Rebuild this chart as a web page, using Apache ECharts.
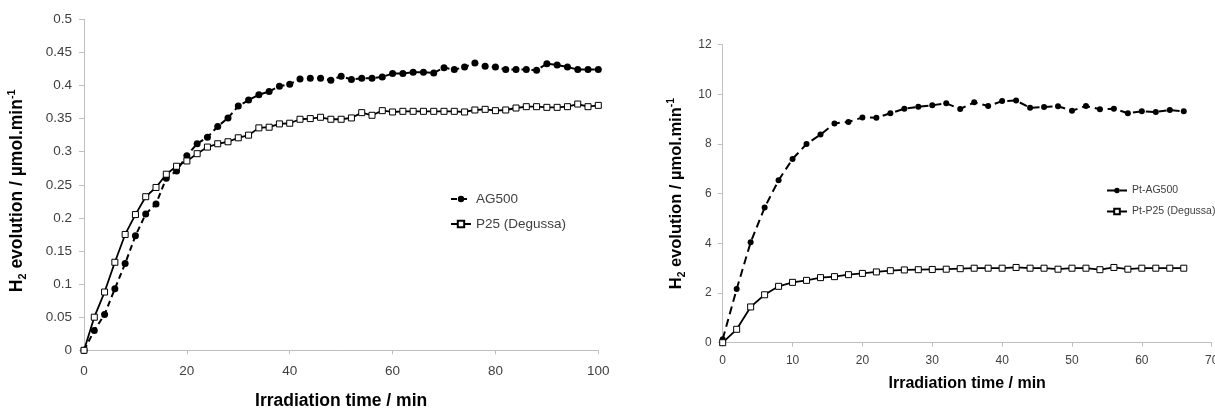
<!DOCTYPE html>
<html>
<head>
<meta charset="utf-8">
<script src="https://cdn.jsdelivr.net/npm/echarts@6/dist/echarts.min.js"></script>
<style>
html,body{margin:0;padding:0;background:#fff;}
#c{width:1215px;height:410px;}
</style>
</head>
<body>
<div id="c"></div>
<script>
// ---- Data ----
var timeLeft = [0,2,4,6,8,10,12,14,16,18,20,22,24,26,28,30,32,34,36,38,40,42,44,46,48,50,52,54,56,58,60,62,64,66,68,70,72,74,76,78,80,82,84,86,88,90,92,94,96,98,100];
var ag500 = [0,0.030,0.054,0.093,0.131,0.173,0.206,0.221,0.260,0.271,0.294,0.312,0.322,0.338,0.351,0.369,0.378,0.386,0.391,0.399,0.402,0.410,0.411,0.411,0.408,0.414,0.409,0.411,0.411,0.413,0.418,0.418,0.420,0.420,0.419,0.427,0.424,0.428,0.434,0.429,0.428,0.424,0.424,0.424,0.423,0.433,0.431,0.428,0.424,0.424,0.424];
var p25 = [0,0.050,0.088,0.133,0.175,0.205,0.232,0.246,0.266,0.278,0.286,0.297,0.307,0.312,0.315,0.321,0.325,0.336,0.337,0.342,0.343,0.349,0.350,0.352,0.349,0.349,0.351,0.359,0.355,0.362,0.360,0.361,0.361,0.361,0.361,0.361,0.361,0.360,0.363,0.364,0.362,0.363,0.366,0.368,0.368,0.367,0.367,0.368,0.372,0.368,0.370];

var timeRight = [0,2,4,6,8,10,12,14,16,18,20,22,24,26,28,30,32,34,36,38,40,42,44,46,48,50,52,54,56,58,60,62,64,66];
var ptAg500 = [0.14,2.16,4.04,5.44,6.54,7.40,8.00,8.38,8.83,8.89,9.07,9.06,9.24,9.42,9.50,9.56,9.64,9.41,9.68,9.53,9.73,9.75,9.46,9.49,9.52,9.34,9.53,9.40,9.42,9.24,9.32,9.29,9.37,9.32];
var ptP25 = [0,0.54,1.44,1.93,2.27,2.43,2.51,2.62,2.66,2.74,2.79,2.85,2.90,2.93,2.94,2.95,2.96,2.98,3.00,3.00,3.00,3.03,3.00,3.00,2.96,3.00,3.00,2.94,3.03,2.96,3.00,3.00,3.00,3.00];

var seriesNamesLeft = ['AG500', 'P25 (Degussa)'];
var seriesNamesRight = ['Pt-AG500', 'Pt-P25 (Degussa)'];
var xTitle = 'Irradiation time / min';

function pairs(xs, ys){ return xs.map(function(x,i){ return [x, ys[i]]; }); }

var FONT = "'Liberation Sans', Arial, sans-serif";
var AXIS_COLOR = '#bfbfbf';
var LABEL_COLOR = '#404040';

function yName(fs){
  return {
    name: '{b|H}{s|2}{b| evolution / µmol.min}{p|-1}',
    rich: {
      b: {fontSize: fs, fontWeight: 'bold', color: '#000', fontFamily: FONT, lineHeight: fs + 4, verticalAlign: 'middle'},
      s: {fontSize: fs * 0.62, fontWeight: 'bold', color: '#000', fontFamily: FONT, lineHeight: fs * 0.7, verticalAlign: 'bottom'},
      p: {fontSize: fs * 0.62, fontWeight: 'bold', color: '#000', fontFamily: FONT, lineHeight: fs * 0.7, verticalAlign: 'top'}
    }
  };
}

var yl = yName(17.5), yr = yName(16.5);

var option = {
  animation: false,
  backgroundColor: '#fff',
  textStyle: {fontFamily: FONT},
  grid: [
    {left: 84, top: 19.3, width: 514.3, height: 331, containLabel: false, outerBoundsMode: 'none'},
    {left: 722.7, top: 44.7, width: 489, height: 298, containLabel: false, outerBoundsMode: 'none'}
  ],
  xAxis: [
    {
      type: 'value', gridIndex: 0, min: 0, max: 100, interval: 20,
      name: xTitle, nameLocation: 'middle', nameGap: 42,
      nameTextStyle: {fontSize: 17.5, fontWeight: 'bold', color: '#000', fontFamily: FONT},
      axisLine: {lineStyle: {color: AXIS_COLOR, width: 1}},
      axisTick: {show: true, length: 4, lineStyle: {color: AXIS_COLOR}},
      axisLabel: {fontSize: 13.5, color: LABEL_COLOR, margin: 14, fontFamily: FONT},
      splitLine: {show: false}
    },
    {
      type: 'value', gridIndex: 1, min: 0, max: 70, interval: 10,
      name: xTitle, nameLocation: 'middle', nameGap: 33,
      nameTextStyle: {fontSize: 16, fontWeight: 'bold', color: '#000', fontFamily: FONT},
      axisLine: {lineStyle: {color: AXIS_COLOR, width: 1}},
      axisTick: {show: true, length: 4, lineStyle: {color: AXIS_COLOR}},
      axisLabel: {fontSize: 12, color: LABEL_COLOR, margin: 12, fontFamily: FONT},
      splitLine: {show: false}
    }
  ],
  yAxis: [
    {
      type: 'value', gridIndex: 0, min: 0, max: 0.5, interval: 0.05,
      name: yl.name, nameLocation: 'middle', nameGap: 56, nameRotate: 90,
      nameTextStyle: {rich: yl.rich, padding: [0, 12, 0, 0]},
      axisLine: {show: true, lineStyle: {color: AXIS_COLOR, width: 1}},
      axisTick: {show: true, length: 5, lineStyle: {color: AXIS_COLOR}},
      axisLabel: {fontSize: 13.5, color: LABEL_COLOR, margin: 12, fontFamily: FONT},
      splitLine: {show: false}
    },
    {
      type: 'value', gridIndex: 1, min: 0, max: 12, interval: 2,
      name: yr.name, nameLocation: 'middle', nameGap: 36, nameRotate: 90,
      nameTextStyle: {rich: yr.rich},
      axisLine: {show: true, lineStyle: {color: AXIS_COLOR, width: 1}},
      axisTick: {show: true, length: 5, lineStyle: {color: AXIS_COLOR}},
      axisLabel: {fontSize: 12, color: LABEL_COLOR, margin: 11, fontFamily: FONT},
      splitLine: {show: false}
    }
  ],
  legend: [
    {
      data: seriesNamesLeft, orient: 'vertical', left: 445, top: 187,
      itemWidth: 20, itemHeight: 8, itemGap: 11,
      textStyle: {fontSize: 13.5, color: LABEL_COLOR, fontFamily: FONT}
    },
    {
      data: seriesNamesRight, orient: 'vertical', left: 1101, top: 180,
      itemWidth: 20, itemHeight: 7, itemGap: 10,
      textStyle: {fontSize: 10.5, color: LABEL_COLOR, fontFamily: FONT}
    }
  ],
  series: [
    {
      name: seriesNamesLeft[0], type: 'line', xAxisIndex: 0, yAxisIndex: 0,
      data: pairs(timeLeft, ag500), symbol: 'circle', symbolSize: 7,
      lineStyle: {color: '#000', width: 2, type: [6, 4]},
      itemStyle: {color: '#000'}
    },
    {
      name: seriesNamesLeft[1], type: 'line', xAxisIndex: 0, yAxisIndex: 0,
      data: pairs(timeLeft, p25), symbol: 'rect', symbolSize: 6,
      lineStyle: {color: '#000', width: 1.8},
      itemStyle: {color: '#fff', borderColor: '#000', borderWidth: 1}
    },
    {
      name: seriesNamesRight[0], type: 'line', xAxisIndex: 1, yAxisIndex: 1,
      data: pairs(timeRight, ptAg500), symbol: 'circle', symbolSize: 6,
      lineStyle: {color: '#000', width: 2, type: [8, 5]},
      itemStyle: {color: '#000'}
    },
    {
      name: seriesNamesRight[1], type: 'line', xAxisIndex: 1, yAxisIndex: 1,
      data: pairs(timeRight, ptP25), symbol: 'rect', symbolSize: 6,
      lineStyle: {color: '#000', width: 1.8},
      itemStyle: {color: '#fff', borderColor: '#000', borderWidth: 1}
    }
  ]
};

var chart = echarts.init(document.getElementById('c'), null, {renderer: 'canvas'});
chart.setOption(option);
</script>
</body>
</html>
